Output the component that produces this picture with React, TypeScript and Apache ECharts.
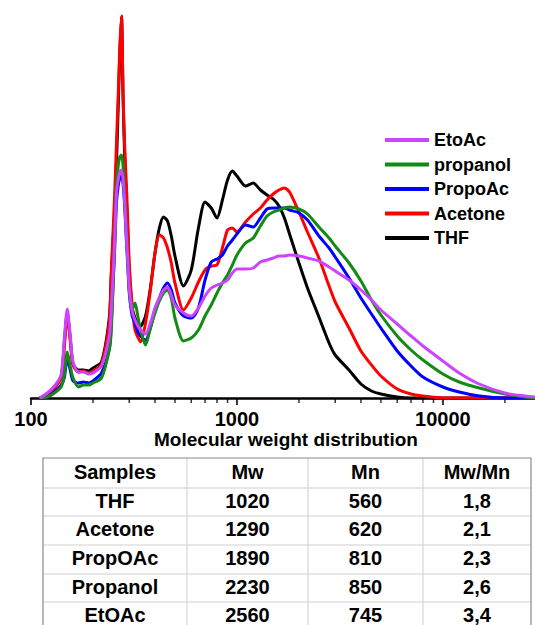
import React, { useEffect, useRef } from "react";
import * as echarts from "echarts";

// Molecular weight grid (g/mol) shared by every curve
const mwGrid = [110, 120, 130, 140, 145, 150, 155, 160, 170, 180, 190, 200, 220, 240, 245, 250, 255, 260, 265, 270, 275, 280, 285, 290, 295, 300, 310, 320, 330, 340, 360, 380, 400, 420, 440, 460, 480, 500, 550, 600, 650, 700, 750, 800, 850, 900, 950, 1000, 1100, 1200, 1300, 1400, 1500, 1600, 1700, 1800, 2000, 2200, 2500, 2800, 3000, 3500, 4000, 4500, 5000, 6000, 7000, 8000, 10000, 12000, 15000, 20000, 25000, 28000];

// Detector response (arbitrary units)
const thf = [0, 2, 10, 21, 54, 85, 60, 34, 28, 28, 27, 30, 36, 80, 120, 155, 190, 235, 290, 345, 382, 300, 240, 200, 165, 125, 90, 80, 75, 72, 82, 110, 145, 170, 181, 177, 162, 142, 112, 128, 170, 196, 190, 180, 198, 218, 227, 222, 212, 215, 208, 203, 199, 192, 180, 164, 135, 110, 81, 55, 43, 28, 14, 7, 4, 1, 0, 0, 0, 0, 0, 0, 0, 0];
const acetone = [0, 3, 10, 20, 50, 83, 58, 33, 26, 27, 25, 27, 34, 76, 121, 164, 205, 255, 302, 351, 382, 302, 252, 217, 178, 135, 92, 68, 61, 56, 75, 108, 145, 163, 160, 150, 135, 115, 88, 100, 116, 128, 132, 133, 150, 168, 170, 166, 176, 184, 190, 198, 204, 208, 210, 206, 186, 166, 140, 112, 96, 70, 47, 33, 22, 9, 4, 2, 0, 0, 0, 0, 0, 0];
const propoAc = [0, 1, 6, 13, 20, 40, 28, 17, 15, 16, 15, 17, 25, 50, 72, 110, 150, 195, 212, 220, 222, 214, 192, 160, 133, 105, 82, 75, 66, 62, 58, 70, 88, 100, 110, 115, 108, 95, 82, 80, 90, 118, 136, 139, 143, 152, 158, 164, 173, 171, 180, 189, 190, 190, 190, 188, 185, 178, 162, 150, 141, 120, 100, 84, 70, 47, 32, 21, 11, 6, 2, 0, 0, 0];
const propanol = [0, 1, 5, 11, 22, 46, 32, 20, 11, 13, 13, 15, 20, 48, 65, 110, 160, 212, 232, 241, 243, 232, 201, 170, 138, 108, 88, 95, 82, 68, 53, 70, 85, 97, 105, 108, 100, 80, 57, 60, 68, 82, 93, 105, 115, 123, 133, 143, 155, 160, 172, 182, 186, 188, 190, 191, 189, 184, 171, 160, 152, 135, 117, 98, 83, 62, 48, 38, 24, 16, 10, 4, 1, 0];
const etoAc = [0, 5, 12, 23, 58, 89, 63, 36, 26, 26, 24, 25, 32, 62, 86, 121, 160, 205, 218, 226, 228, 218, 196, 165, 138, 110, 86, 78, 72, 68, 64, 75, 90, 100, 108, 111, 103, 93, 85, 82, 90, 102, 110, 113, 115, 118, 125, 129, 129, 130, 136, 138, 140, 142, 142, 143, 142, 140, 137, 131, 127, 118, 108, 98, 88, 74, 62, 52, 37, 25, 14, 5, 2, 1];

const majorTicks = [100, 1000, 10000];
const minorTicks = [200, 300, 400, 500, 600, 700, 800, 900, 2000, 3000, 4000, 5000, 6000, 7000, 8000, 9000, 20000];

// Table
const tableHeader = ["Samples", "Mw", "Mn", "Mw/Mn"];
const samples = ["THF", "Acetone", "PropOAc", "Propanol", "EtOAc"];
const mwValues = [1020, 1290, 1890, 2230, 2560];
const mnValues = [560, 620, 810, 850, 745];
const pdiValues = ["1,8", "2,1", "2,3", "2,6", "3,4"];

const FONT = '"Liberation Sans", Arial, sans-serif';

export default function App() {
  const ref = useRef<HTMLDivElement>(null);

  useEffect(() => {
    if (!ref.current) return;
    const chart = echarts.init(ref.current, null, { renderer: "svg" });

    const seriesDefs = [
      { name: "THF", data: thf, color: "#000000" },
      { name: "Acetone", data: acetone, color: "#ff0000" },
      { name: "PropoAc", data: propoAc, color: "#0000ff" },
      { name: "propanol", data: propanol, color: "#138a13" },
      { name: "EtoAc", data: etoAc, color: "#cc44ff" },
    ];

    const colX = [43, 187, 308, 423, 531];
    const rowY = [458, 488, 516, 545, 574, 602, 631];
    const rows = [tableHeader, ...samples.map((s, i) => [s, String(mwValues[i]), String(mnValues[i]), pdiValues[i]])];

    const tableEls: any[] = [];
    for (let r = 1; r < rowY.length - 1; r++) {
      tableEls.push({ type: "line", shape: { x1: colX[0], y1: rowY[r], x2: colX[4], y2: rowY[r] }, style: { stroke: "#cfcfcf", lineWidth: 1 } });
    }
    for (let c = 1; c < colX.length - 1; c++) {
      tableEls.push({ type: "line", shape: { x1: colX[c], y1: rowY[0], x2: colX[c], y2: rowY[rowY.length - 1] }, style: { stroke: "#cfcfcf", lineWidth: 1 } });
    }
    tableEls.push({ type: "rect", shape: { x: colX[0], y: rowY[0], width: colX[4] - colX[0], height: rowY[rowY.length - 1] - rowY[0] }, style: { fill: "none", stroke: "#8a8a8a", lineWidth: 1.2 } });
    rows.forEach((row, r) => {
      row.forEach((txt, c) => {
        tableEls.push({
          type: "text",
          x: (colX[c] + colX[c + 1]) / 2,
          y: (rowY[r] + rowY[r + 1]) / 2 - 1.5,
          style: { text: txt, font: `bold 20px ${FONT}`, fill: "#000", align: "center", verticalAlign: "middle", textAlign: "center", textVerticalAlign: "middle" },
        });
      });
    });

    chart.setOption({
      animation: false,
      backgroundColor: "#fff",
      grid: { left: 31, right: 0, top: 16, bottom: 227 },
      legend: {
        orient: "vertical",
        left: 380,
        top: 125,
        itemWidth: 44,
        itemHeight: 4,
        itemGap: 4.5,
        icon: "rect",
        data: ["EtoAc", "propanol", "PropoAc", "Acetone", "THF"],
        textStyle: { fontSize: 18, fontWeight: "bold", color: "#000", fontFamily: FONT, lineHeight: 20 },
      },
      xAxis: {
        type: "log",
        logBase: 10,
        min: 100,
        max: 28000,
        axisLine: { show: true, lineStyle: { color: "#000", width: 2.5 } },
        axisTick: { show: false },
        splitLine: { show: false },
        minorTick: { show: false },
        axisLabel: {
          showMinLabel: true,
          showMaxLabel: false,
          margin: 12,
          fontSize: 20,
          lineHeight: 18,
          fontWeight: "bold",
          fontFamily: FONT,
          color: "#000",
          formatter: (v: number) => {
            const l = Math.log10(v);
            return Math.abs(l - Math.round(l)) < 1e-6 ? String(Math.round(v)) : "";
          },
        },
      },
      yAxis: { type: "value", min: 0, max: 382, show: false },
      graphic: [
        {
          type: "text",
          x: 286,
          y: 439,
          style: { text: "Molecular weight distribution", font: `bold 19px ${FONT}`, fill: "#000", align: "center", verticalAlign: "middle", textAlign: "center", textVerticalAlign: "middle" },
        },
        ...tableEls,
      ],
      series: [
        ...seriesDefs.map((s) => ({
          name: s.name,
          type: "line",
          data: mwGrid.map((m, i) => [m, s.data[i]]),
          showSymbol: false,
          symbol: "none",
          smooth: 0.25,
          lineStyle: { color: s.color, width: 3 },
          itemStyle: { color: s.color },
          silent: true,
        })),
        {
          type: "scatter",
          data: majorTicks.map((v) => [v, 0]),
          symbol: "rect",
          symbolSize: [2, 6],
          symbolOffset: [0, 4],
          itemStyle: { color: "#000" },
          clip: false,
          silent: true,
          z: 1,
        },
        {
          type: "scatter",
          data: minorTicks.map((v) => [v, 0]),
          symbol: "rect",
          symbolSize: [1.5, 4],
          symbolOffset: [0, 3],
          itemStyle: { color: "#000" },
          clip: false,
          silent: true,
          z: 1,
        },
      ],
    });

    return () => chart.dispose();
  }, []);

  return <div ref={ref} style={{ position: "fixed", left: 0, top: 0, width: 535, height: 625 }} />;
}
